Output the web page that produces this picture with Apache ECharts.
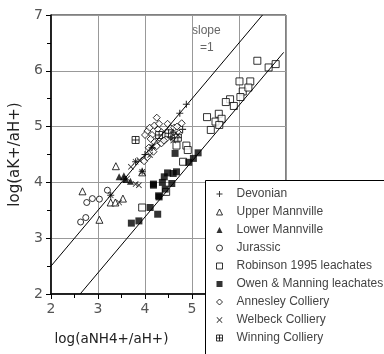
<!DOCTYPE html>
<html>
<head>
<meta charset="utf-8">
<script src="https://cdn.jsdelivr.net/npm/echarts@6/dist/echarts.min.js"></script>
<style>
    html, body { margin: 0; padding: 0; background: #fff; }
    #myChart { width: 384px; height: 354px; }
</style>
</head>
<body>
<div id="myChart"></div>
<script>
    // x = log(aNH4+/aH+), y = log(aK+/aH+)
    const devonian = [[4.88,5.40],[4.74,5.24],[3.27,3.77],[3.80,4.37],[3.94,4.20],[4.15,4.62],[4.55,4.80],[4.80,4.95],[4.60,4.90],[3.55,4.05],[4.00,4.50]];
    const upperMannville = [[2.67,3.84],[3.03,3.33],[3.27,3.64],[3.37,3.64],[3.53,3.71],[3.38,4.29],[3.94,4.18]];
    const lowerMannville = [[3.45,4.10],[3.59,4.05],[3.69,4.02],[3.55,4.12]];
    const jurassic = [[2.63,3.29],[2.74,3.37],[2.76,3.64],[2.88,3.71],[3.03,3.70],[3.20,3.86]];
    const robinson = [[6.39,6.18],[6.63,6.06],[6.78,6.12],[6.01,5.81],[6.24,5.81],[6.08,5.63],[6.20,5.70],[6.03,5.53],
        [5.81,5.49],[5.72,5.44],[5.89,5.37],[5.32,5.17],[5.57,5.23],[5.50,5.09],[5.63,5.14],[5.58,5.03],[5.40,4.94],
        [4.67,4.66],[4.88,4.66],[4.91,4.58],[4.81,4.37],[4.45,3.83],[3.94,3.55]];
    const owenManning = [[4.64,4.52],[5.13,4.53],[5.03,4.43],[4.93,4.36],[4.67,4.19],[4.60,4.16],[4.48,4.17],[4.41,4.10],
        [4.37,4.00],[4.18,3.97],[4.43,3.88],[4.30,3.74],[4.18,3.95],[4.11,3.55],[4.27,3.43],[3.87,3.31],[3.71,3.27],
        [4.29,3.76],[4.57,3.98]];
    const annesley = [[4.25,5.16],[4.78,5.06],[4.05,4.92],[4.10,4.98],[4.15,4.85],[4.20,5.02],[4.28,4.95],[4.30,4.80],
        [4.35,4.90],[4.40,4.85],[4.45,4.78],[4.50,4.92],[4.55,4.97],[4.62,4.98],[4.68,5.00],[4.72,4.88],[4.20,4.72],
        [4.25,4.65],[4.35,4.70],[4.12,4.78],[4.00,4.85],[4.08,4.62],[4.40,4.75],[4.55,4.82],[4.65,4.82],[4.30,5.05],
        [4.18,4.55],[4.05,4.45],[3.98,4.38],[4.48,5.05]];
    const welbeck = [[3.27,3.77],[3.45,3.64],[3.62,4.07],[3.80,3.97],[3.87,3.95],[3.80,4.37],[3.88,4.40],[4.11,4.49],
        [3.94,4.19],[4.15,4.64],[4.60,4.75],[4.70,4.85],[3.70,4.28]];
    const winning = [[3.80,4.76],[4.30,4.85],[4.50,4.88],[4.70,4.80]];
    // slope = 1 reference lines
    const upperLine = [[2,2.5],[6.5,7]];
    const lowerLine = [[2.62,2],[6.95,6.33]];

    const seriesNames = ['Devonian','Upper Mannville','Lower Mannville','Jurassic','Robinson 1995 leachates',
        'Owen & Manning leachates','Annesley Colliery','Welbeck Colliery','Winning Colliery'];

    const plusPath = 'path://M4.2,0H5.8V4.2H10V5.8H5.8V10H4.2V5.8H0V4.2H4.2Z';
    const crossPath = 'path://M1,0L5,4L9,0L10,1L6,5L10,9L9,10L5,6L1,10L0,9L4,5L0,1Z';
    const boxPlusPath = 'path://M0,0H10V10H0Z M5,0V10 M0,5H10';

    const open = { color: '#fff', borderColor: '#000', borderWidth: 1 };
    const solid = { color: '#000' };

    function scatter(name, data, symbol, size, style) {
        return {
            name: name, type: 'scatter', data: data,
            symbol: symbol, symbolSize: size, symbolKeepAspect: true,
            itemStyle: style
        };
    }
    function refLine(data) {
        return {
            type: 'line', data: data, symbol: 'none', silent: true,
            lineStyle: { color: '#000', width: 1 }
        };
    }

    let myChart = echarts.init(document.getElementById('myChart'));
    myChart.setOption({
        backgroundColor: '#fff',
        animation: false,
        textStyle: { fontFamily: 'DejaVu Sans' },
        grid: {
            left: 48, top: 15, width: 238, height: 279,
            show: true, borderColor: '#000', borderWidth: 1
        },
        xAxis: {
            type: 'value', min: 2, max: 7, interval: 1,
            name: 'log(aNH4+/aH+)', nameLocation: 'middle', nameGap: 38,
            nameTextStyle: { fontSize: 13.5, color: '#222', padding: [0, 114, 0, 0] },
            axisLine: { lineStyle: { color: '#000', width: 1.5 } },
            axisTick: { length: 5, lineStyle: { color: '#000' } },
            minorTick: { show: true, splitNumber: 2, length: 4, lineStyle: { color: '#000' } },
            axisLabel: { fontSize: 14, color: '#555', margin: 8 },
            splitLine: { lineStyle: { color: '#999' } }
        },
        yAxis: {
            type: 'value', min: 2, max: 7, interval: 1,
            name: 'log(aK+/aH+)', nameLocation: 'middle', nameGap: 28,
            nameTextStyle: { fontSize: 15, color: '#222' },
            axisLine: { lineStyle: { color: '#000', width: 1.5 } },
            axisTick: { length: 5, lineStyle: { color: '#000' } },
            minorTick: { show: true, splitNumber: 2, length: 4, lineStyle: { color: '#000' } },
            axisLabel: { fontSize: 14, color: '#555', margin: 8 },
            splitLine: { lineStyle: { color: '#999' } }
        },
        legend: {
            data: seriesNames,
            orient: 'vertical',
            left: 216, top: 187,
            padding: 0,
            itemWidth: 6, itemHeight: 6, itemGap: 4,
            itemStyle: { borderWidth: 1 },
            textStyle: { fontFamily: 'Liberation Sans', fontSize: 12, lineHeight: 14, color: '#444', padding: [0, 0, 0, 9] }
        },
        graphic: [
            // legend frame, sits over the plot but under the legend items
            { type: 'rect', z: 3, shape: { x: 205.5, y: 180.5, width: 200, height: 200 },
              style: { fill: '#fff', stroke: '#000', lineWidth: 1 } },
            { type: 'text', left: 192, top: 25, style: { text: 'slope', fontSize: 12, fill: '#666', fontFamily: 'Liberation Sans' } },
            { type: 'text', left: 200, top: 42, style: { text: '=1', fontSize: 12, fill: '#666', fontFamily: 'Liberation Sans' } }
        ],
        series: [
            refLine(upperLine),
            refLine(lowerLine),
            scatter(seriesNames[4], robinson, 'rect', 7, open),
            scatter(seriesNames[5], owenManning, 'rect', 7, solid),
            scatter(seriesNames[3], jurassic, 'circle', 6, open),
            scatter(seriesNames[1], upperMannville, 'triangle', 7, open),
            scatter(seriesNames[2], lowerMannville, 'triangle', 7, solid),
            scatter(seriesNames[6], annesley, 'diamond', 7, open),
            scatter(seriesNames[8], winning, boxPlusPath, 7, open),
            scatter(seriesNames[7], welbeck, crossPath, 6, solid),
            scatter(seriesNames[0], devonian, plusPath, 7, solid)
        ]
    });
</script>
</body>
</html>
